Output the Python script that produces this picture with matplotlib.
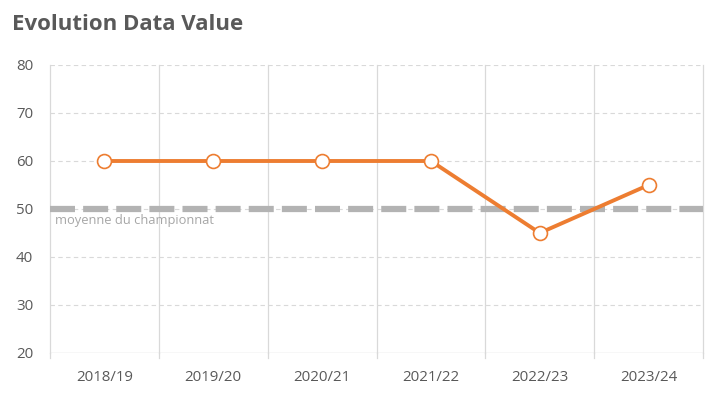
import numpy as np
import matplotlib
matplotlib.use('Agg')
import matplotlib.pyplot as plt

seasons = ['2018/19', '2019/20', '2020/21', '2021/22', '2022/23', '2023/24']
values = [60, 60, 60, 60, 45, 55]
league_avg = 50
avg_label = 'moyenne du championnat'

plt.rcParams['font.family'] = ['Open Sans', 'DejaVu Sans']

fig = plt.figure(figsize=(7.28, 3.93), dpi=100, facecolor='white')
ax = fig.add_axes([50 / 728, 1 - 353 / 393, 653 / 728, 288 / 393])

x = np.arange(len(seasons))
ax.set_xlim(-0.5, len(seasons) - 0.5)
ax.set_ylim(20, 80)
ax.set_yticks(range(20, 81, 10))

# grid: dashed horizontal, solid vertical at category boundaries
for yv in range(30, 81, 10):
    ax.axhline(yv, color='#d9d9d9', lw=0.8, ls=(0, (4, 3)), zorder=0)
bounds = np.arange(-0.5, len(seasons), 1.0)
for xb in bounds:
    ax.plot([xb, xb], [20, 80], color='#d9d9d9', lw=0.9, zorder=0, clip_on=False)
    ax.plot([xb, xb], [20, 20 - 60 * 5 / 288], color='#d9d9d9', lw=0.9, clip_on=False)

for s in ax.spines.values():
    s.set_visible(False)
ax.axhline(20, color='#d9d9d9', lw=1.0, zorder=1)

ax.axhline(league_avg, color='#b3b3b3', lw=4.5, ls=(0, (4, 1.3)), zorder=2)
ax.text(-0.45, league_avg - 1.0, avg_label, color='#a6a6a6', fontsize=9.3,
        va='top', ha='left')

ax.plot(x, values, color='#ED7D31', lw=2.8, marker='o', ms=10,
        mfc='white', mec='#ED7D31', mew=1.2, zorder=3)

ax.set_xticks(x)
ax.set_xticklabels(seasons)
ax.tick_params(axis='both', length=0, labelsize=10.8, colors='#595959')
ax.tick_params(axis='x', pad=12)
ax.tick_params(axis='y', pad=12)

fig.text(12 / 728, 1 - 25 / 393, 'Evolution Data Value', fontsize=16,
         fontweight='bold', color='#595959', va='center', ha='left')

fig.savefig('out.png', dpi=100, facecolor='white')
